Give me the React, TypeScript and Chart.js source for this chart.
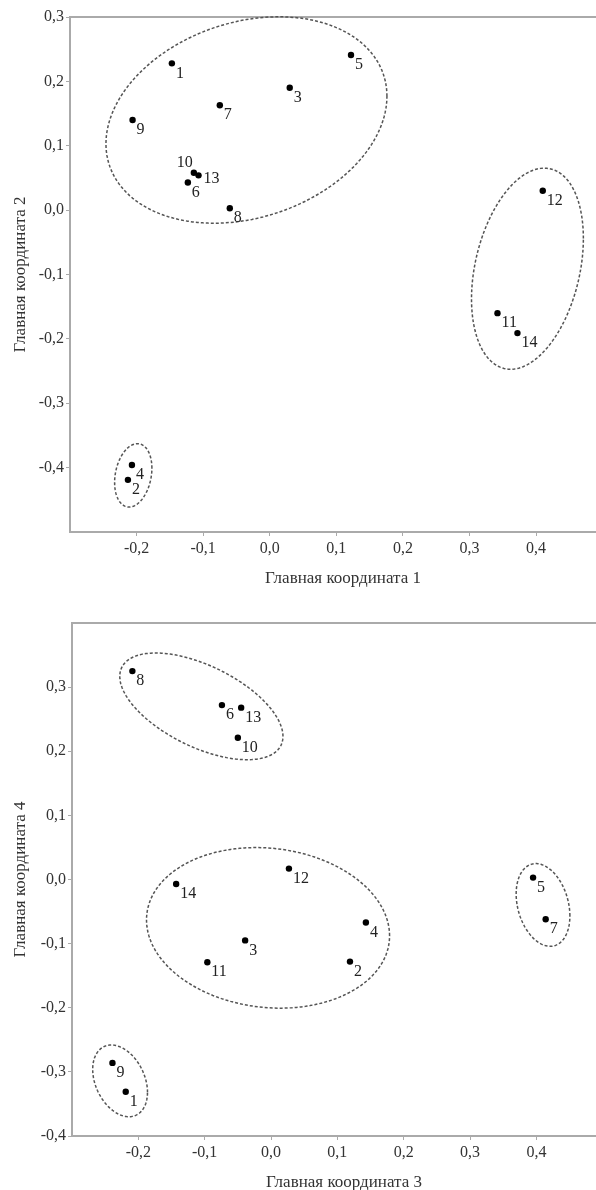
import { useEffect, useRef } from 'react';
import { Chart, registerables } from 'chart.js';

Chart.register(...registerables);

// ---- data ----
const pointNames = ['1', '2', '3', '4', '5', '6', '7', '8', '9', '10', '11', '12', '13', '14'];

// Plot 1: principal coordinates 1 and 2
const coord1 = [-0.147, -0.213, 0.030, -0.207, 0.122, -0.123, -0.075, -0.060, -0.206, -0.114, 0.342, 0.410, -0.107, 0.372];
const coord2 = [0.228, -0.419, 0.190, -0.396, 0.241, 0.043, 0.163, 0.003, 0.140, 0.058, -0.160, 0.030, 0.054, -0.191];

// Plot 2: principal coordinates 3 and 4
const coord3 = [-0.219, 0.119, -0.039, 0.143, 0.395, -0.074, 0.414, -0.209, -0.239, -0.050, -0.096, 0.027, -0.045, -0.143];
const coord4 = [-0.331, -0.128, -0.095, -0.067, 0.003, 0.272, -0.062, 0.325, -0.286, 0.221, -0.129, 0.017, 0.268, -0.007];

const xTickValues = [-0.2, -0.1, 0.0, 0.1, 0.2, 0.3, 0.4];
const yTickValues1 = [0.3, 0.2, 0.1, 0.0, -0.1, -0.2, -0.3, -0.4];
const yTickValues2 = [0.3, 0.2, 0.1, 0.0, -0.1, -0.2, -0.3, -0.4];

const xTitle1 = 'Главная координата 1';
const yTitle1 = 'Главная координата 2';
const xTitle2 = 'Главная координата 3';
const yTitle2 = 'Главная координата 4';

// Cluster ellipses (data units): centre, conjugate semi-axis u = (ux, uy), vertical semi-axis v
const ellipseCenters1 = [[-0.035, 0.140], [0.387, -0.091], [-0.205, -0.412]];
const ellipseU1 = [[0.211, 0.037], [0.084, 0.047], [0.028, 0.011]];
const ellipseV1 = [0.156, 0.149, 0.048];

const ellipseCenters2 = [[-0.105, 0.270], [-0.0045, -0.0754], [0.410, -0.0397], [-0.2275, -0.314]];
const ellipseU2 = [[0.123, -0.0467], [0.1832, -0.0124], [0.0405, -0.0171], [0.0413, -0.0179]];
const ellipseV2 = [0.0689, 0.1246, 0.0622, 0.053];

// label placement codes (se = below-right, nw = above-left, e = right)
const labelPlace1 = ['se', 'se', 'se', 'se', 'se', 'se', 'se', 'se', 'se', 'nw', 'se', 'se', 'e', 'se'];
const labelPlace2 = ['se', 'se', 'se', 'se', 'se', 'se', 'se', 'se', 'se', 'se', 'se', 'se', 'se', 'se'];

// ---- styles ----
const FONT = '"Liberation Serif", "DejaVu Serif", serif';
const textColor = '#333333';
const axisColor = '#aaaaaa';
const ellipseColor = '#555555';

const fmt = (v: number) => Number(v).toFixed(1).replace('.', ',');

function makeConfig(opts: {
  xs: number[]; ys: number[]; yMin: number; yMax: number; yTicks: number[];
  xTitle: string; yTitle: string; top: number; xAxisHeight: number; yAxisWidth: number;
  titleBottomPad: number; centers: number[][]; us: number[][]; vs: number[]; places: string[];
}) {
  const ellipsePlugin = {
    id: 'ellipses',
    afterDatasetsDraw(chart: any) {
      const { ctx, scales } = chart;
      const sx = scales.x, sy = scales.y;
      ctx.save();
      ctx.strokeStyle = ellipseColor;
      ctx.lineWidth = 1.5;
      ctx.setLineDash([3, 2]);
      opts.centers.forEach((c, i) => {
        const u = opts.us[i];
        const v = opts.vs[i];
        ctx.beginPath();
        const n = 160;
        for (let k = 0; k <= n; k++) {
          const t = (k / n) * Math.PI * 2;
          const dx = c[0] + u[0] * Math.cos(t);
          const dy = c[1] + u[1] * Math.cos(t) + v * Math.sin(t);
          const px = sx.getPixelForValue(dx);
          const py = sy.getPixelForValue(dy);
          if (k === 0) ctx.moveTo(px, py); else ctx.lineTo(px, py);
        }
        ctx.closePath();
        ctx.stroke();
      });
      ctx.restore();
    },
  };
  const labelPlugin = {
    id: 'pointLabels',
    afterDatasetsDraw(chart: any) {
      const { ctx } = chart;
      const meta = chart.getDatasetMeta(0);
      ctx.save();
      ctx.font = `16px ${FONT}`;
      ctx.fillStyle = '#222222';
      ctx.textBaseline = 'middle';
      meta.data.forEach((el: any, i: number) => {
        const place = opts.places[i];
        let x = el.x + 4, y = el.y + 10;
        ctx.textAlign = 'left';
        if (place === 'nw') { ctx.textAlign = 'right'; x = el.x - 1; y = el.y - 10; }
        if (place === 'e') { x = el.x + 5; y = el.y + 3; }
        ctx.fillText(pointNames[i], x, y);
      });
      ctx.restore();
    },
  };

  const tickFont = { family: FONT, size: 16 };
  const titleFont = { family: FONT, size: 17 };

  return {
    type: 'scatter' as const,
    data: {
      datasets: [{
        data: opts.xs.map((x, i) => ({ x, y: opts.ys[i] })),
        pointRadius: 3.2,
        pointHoverRadius: 3.2,
        backgroundColor: '#000000',
        borderWidth: 0,
      }],
    },
    options: {
      responsive: false,
      animation: false as const,
      events: [],
      layout: { padding: { top: opts.top, left: 0, right: 4, bottom: 0 } },
      plugins: { legend: { display: false }, tooltip: { enabled: false } },
      scales: {
        x: {
          type: 'linear' as const,
          position: 'bottom' as const,
          min: -0.3,
          max: 0.52,
          afterBuildTicks: (s: any) => { s.ticks = xTickValues.map((value) => ({ value })); },
          afterFit: (s: any) => { s.height = opts.xAxisHeight; },
          border: { display: true, color: axisColor, width: 2 },
          grid: { display: true, drawOnChartArea: false, drawTicks: true, tickLength: 4, color: axisColor, lineWidth: 1 },
          ticks: { font: tickFont, color: textColor, padding: 3, maxRotation: 0, autoSkip: false, callback: (v: any) => fmt(v) },
          title: { display: true, text: opts.xTitle, font: titleFont, color: textColor, padding: { top: 0, bottom: opts.titleBottomPad } },
        },
        x2: {
          type: 'linear' as const,
          position: 'top' as const,
          min: -0.3,
          max: 0.52,
          afterFit: (s: any) => { s.height = 0; },
          border: { display: true, color: axisColor, width: 2 },
          grid: { display: false, drawTicks: false },
          ticks: { display: false },
        },
        y: {
          type: 'linear' as const,
          position: 'left' as const,
          min: opts.yMin,
          max: opts.yMax,
          afterBuildTicks: (s: any) => { s.ticks = opts.yTicks.map((value) => ({ value })); },
          afterFit: (s: any) => { s.width = opts.yAxisWidth; },
          border: { display: true, color: axisColor, width: 2 },
          grid: { display: true, drawOnChartArea: false, drawTicks: true, tickLength: 4, color: axisColor, lineWidth: 1 },
          ticks: { font: tickFont, color: textColor, padding: 2, autoSkip: false, callback: (v: any) => fmt(v) },
          title: { display: true, text: opts.yTitle, font: titleFont, color: textColor, padding: { top: 10, bottom: 0 } },
        },
      },
    },
    plugins: [ellipsePlugin, labelPlugin],
  };
}

function ScatterPanel(props: { config: any; width: number; height: number; top: number }) {
  const ref = useRef<HTMLCanvasElement | null>(null);
  useEffect(() => {
    if (!ref.current) return;
    const chart = new Chart(ref.current, props.config);
    return () => chart.destroy();
  }, []);
  return (
    <canvas
      ref={ref}
      width={props.width}
      height={props.height}
      style={{ position: 'absolute', left: 0, top: props.top, width: props.width, height: props.height, display: 'block' }}
    />
  );
}

export default function App() {
  const config1 = makeConfig({
    xs: coord1, ys: coord2, yMin: -0.5, yMax: 0.3, yTicks: yTickValues1,
    xTitle: xTitle1, yTitle: yTitle1, top: 17, xAxisHeight: 68, yAxisWidth: 70, titleBottomPad: 11,
    centers: ellipseCenters1, us: ellipseU1, vs: ellipseV1, places: labelPlace1,
  });
  const config2 = makeConfig({
    xs: coord3, ys: coord4, yMin: -0.4, yMax: 0.4, yTicks: yTickValues2,
    xTitle: xTitle2, yTitle: yTitle2, top: 23, xAxisHeight: 64, yAxisWidth: 72, titleBottomPad: 7,
    centers: ellipseCenters2, us: ellipseU2, vs: ellipseV2, places: labelPlace2,
  });
  return (
    <div style={{ position: 'absolute', left: 0, top: 0, width: 596, height: 1190, overflow: 'hidden', background: '#ffffff' }}>
      <ScatterPanel config={config1} width={620} height={600} top={0} />
      <ScatterPanel config={config2} width={620} height={600} top={600} />
    </div>
  );
}
